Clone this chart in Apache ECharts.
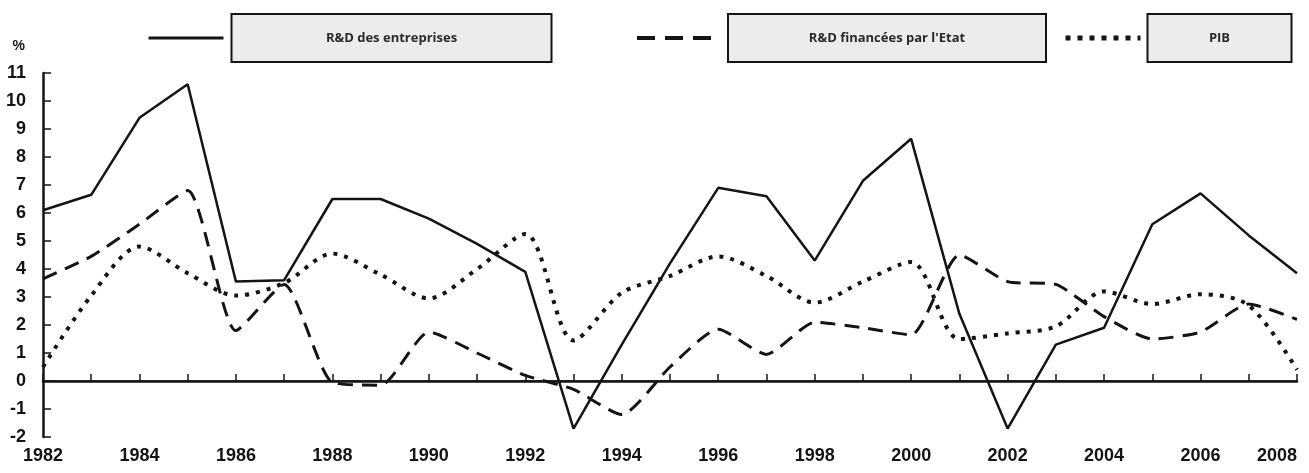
<!DOCTYPE html>
<html>
<head>
<meta charset="utf-8">
<script src="https://cdn.jsdelivr.net/npm/echarts@6/dist/echarts.min.js"></script>
<style>
html,body{margin:0;padding:0;background:#fff;}
#chart{width:1309px;height:473px;}
</style>
</head>
<body>
<div id="chart"></div>
<script>
const years = ['1982','1983','1984','1985','1986','1987','1988','1989','1990','1991','1992','1993','1994','1995','1996','1997','1998','1999','2000','2001','2002','2003','2004','2005','2006','2007','2008'];
const rdEntreprises = [6.1, 6.65, 9.4, 10.6, 3.55, 3.6, 6.5, 6.5, 5.8, 4.9, 3.9, -1.7, 1.3, 4.2, 6.9, 6.6, 4.3, 7.15, 8.65, 2.4, -1.7, 1.3, 1.9, 5.6, 6.7, 5.2, 3.85];
const rdEtat = [3.65, 4.45, 5.6, 6.8, 1.8, 3.45, -0.05, -0.15, 1.75, 1.0, 0.2, -0.3, -1.2, 0.5, 1.85, 0.95, 2.1, 1.9, 1.65, 4.5, 3.55, 3.45, 2.3, 1.5, 1.75, 2.75, 2.2];
const pib = [0.5, 3.05, 4.8, 3.85, 3.05, 3.5, 4.55, 3.8, 2.95, 4.0, 5.25, 1.45, 3.15, 3.75, 4.45, 3.75, 2.8, 3.55, 4.25, 1.5, 1.7, 1.95, 3.2, 2.75, 3.1, 2.7, 0.4];
const seriesNames = ['R&D des entreprises', "R&D financées par l'Etat", 'PIB'];
const yTicks = { min: -2, max: 11, interval: 1 };

const FONT = "'Liberation Sans', Arial, sans-serif";
const INK = '#141414';

function legendBox(name, left, spacer, boxWidth, dash, lw) {
  return {
    data: [name],
    left: left,
    top: 13,
    padding: 0,
    itemWidth: 75,
    itemHeight: 14,
    selectedMode: false,
    itemStyle: { opacity: 0 },
    lineStyle: { width: lw, type: dash, color: INK },
    formatter: function (n) { return '{s|}{b|' + n + '}'; },
    textStyle: {
      rich: {
        s: { width: spacer, height: 10 },
        b: {
          fontFamily: "'Open Sans', 'Liberation Sans', sans-serif",
          fontSize: 13,
          fontWeight: 'bold',
          color: '#2a2a2a',
          backgroundColor: '#ececec',
          borderColor: INK,
          borderWidth: 2,
          width: boxWidth,
          height: 46,
          lineHeight: 46,
          align: 'center'
        }
      }
    }
  };
}

const chart = echarts.init(document.getElementById('chart'));
chart.setOption({
  animation: false,
  backgroundColor: '#ffffff',
  grid: { left: 43, right: 12, top: 73, bottom: 36 },
  legend: [
    legendBox(seriesNames[0], 147, 4, 318, 'solid', 3),
    legendBox(seriesNames[1], 635, 12, 316, [18, 10], 4),
    legendBox(seriesNames[2], 1063, 3, 142, [5, 7], 5)
  ],
  xAxis: {
    type: 'category',
    data: years,
    boundaryGap: false,
    axisLine: { lineStyle: { color: INK, width: 2.5 } },
    axisTick: { show: true, inside: true, length: 7, interval: 0, alignWithLabel: true, lineStyle: { color: INK, width: 1.5 } },
    axisLabel: {
      interval: 1,
      margin: 10,
      fontFamily: FONT,
      fontSize: 18,
      fontWeight: 'bold',
      color: INK,
      alignMaxLabel: 'right'
    },
    splitLine: { show: false }
  },
  yAxis: {
    type: 'value',
    min: yTicks.min,
    max: yTicks.max,
    interval: yTicks.interval,
    name: '%',
    nameLocation: 'end',
    nameGap: 20,
    nameTextStyle: { fontFamily: FONT, fontSize: 14, fontWeight: 'bold', color: INK, align: 'right', padding: [0, 18, 0, 0] },
    axisLine: { show: true, lineStyle: { color: INK, width: 2.5 } },
    axisTick: { show: true, inside: true, length: 8, lineStyle: { color: INK, width: 1.5 } },
    axisLabel: { margin: 17, fontFamily: FONT, fontSize: 18, fontWeight: 'bold', color: INK },
    splitLine: { show: false }
  },
  series: [
    {
      name: seriesNames[0],
      type: 'line',
      data: rdEntreprises,
      symbol: 'none',
      lineStyle: { color: INK, width: 2.5, type: 'solid' },
      itemStyle: { color: INK },
      markLine: {
        silent: true,
        symbol: 'none',
        label: { show: false },
        lineStyle: { color: INK, width: 1.5, type: 'solid' },
        data: [{ yAxis: 0 }]
      },
      z: 3
    },
    {
      name: seriesNames[1],
      type: 'line',
      data: rdEtat,
      symbol: 'none',
      smooth: 0.2,
      lineStyle: { color: INK, width: 3, type: [15, 9] },
      itemStyle: { color: INK },
      z: 2
    },
    {
      name: seriesNames[2],
      type: 'line',
      data: pib,
      symbol: 'none',
      smooth: 0.3,
      lineStyle: { color: INK, width: 4, type: [4, 7] },
      itemStyle: { color: INK },
      z: 2
    }
  ]
});
</script>
</body>
</html>
